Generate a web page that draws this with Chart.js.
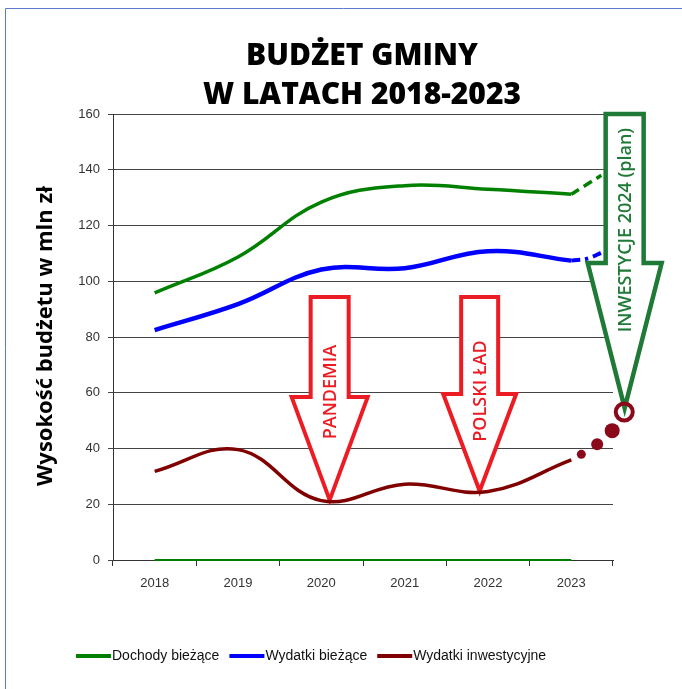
<!DOCTYPE html>
<html>
<head>
<meta charset="utf-8">
<script src="https://cdn.jsdelivr.net/npm/chart.js@4.4.1/dist/chart.umd.min.js"></script>
<style>
  html, body { margin: 0; padding: 0; background: #fff; }
  #wrap { width: 682px; height: 689px; }
</style>
</head>
<body>
<div id="wrap"><canvas id="chart" width="682" height="689"></canvas></div>
<script>
const years = [2018, 2019, 2020, 2021, 2022, 2023];
const dochody = [95.8, 108.7, 128.4, 134.3, 133.0, 131.2];
const wydatkiBiezace = [82.5, 91.8, 104.2, 104.7, 110.8, 107.4];
const wydatkiInwest = [31.8, 39.6, 21.3, 27.2, 24.6, 35.9];
const zeroLine = [0, 0, 0, 0, 0, 0];

// dorysowana prognoza za 2023
const dochodyPlanX = [2023, 2023.18, 2023.36];
const dochodyPlan = [131.2, 134.6, 138.0];
const wydatkiPlanX = [2023, 2023.2, 2023.38];
const wydatkiPlan = [107.4, 108.2, 110.5];
const inwestPlanX = [2023.12, 2023.31, 2023.49, 2023.635];
const inwestPlan = [37.9, 41.5, 46.4, 53.1];

const titleLines = ["BUDŻET GMINY", "W LATACH 2018-2023"];
const yTitle = "Wysokość budżetu w mln zł";
const arrowLabels = ["PANDEMIA", "POLSKI ŁAD", "INWESTYCJE 2024 (plan)"];
const arrowYears = [2020.1, 2021.9, 2023.64];
const arrowTips = [21.5, 24.75, 54.5];

const RED = "#ec1c24";
const DARKGREEN = "#1e7a36";
const DOT = "#8a0a1c";
const arrowStyle = [
  { len: 203, head: 103, shaft: 19, wing: 38, textUp: 108, color: RED, width: 4, font: '600 18px "Open Sans"' },
  { len: 194, head: 97, shaft: 18.5, wing: 36.5, textUp: 100, color: RED, width: 4, font: '600 18px "Open Sans"' },
  { len: 294, head: 145, shaft: 19, wing: 37, textUp: 178, color: DARKGREEN, width: 4.5, font: '600 18px "Open Sans"' },
];

const tickFont = { family: '"Liberation Sans", Arial, sans-serif', size: 13 };

function pts(xs, ys) {
  return xs.map((x, i) => ({ x: x, y: ys[i] }));
}

function drawArrow(ctx, tx, ty, s, label) {
  ctx.save();
  ctx.beginPath();
  ctx.moveTo(tx - s.shaft, ty - s.len);
  ctx.lineTo(tx + s.shaft, ty - s.len);
  ctx.lineTo(tx + s.shaft, ty - s.head);
  ctx.lineTo(tx + s.wing, ty - s.head);
  ctx.lineTo(tx, ty);
  ctx.lineTo(tx - s.wing, ty - s.head);
  ctx.lineTo(tx - s.shaft, ty - s.head);
  ctx.closePath();
  ctx.fillStyle = "#fff";
  ctx.fill();
  ctx.lineJoin = "miter";
  ctx.lineWidth = s.width;
  ctx.strokeStyle = s.color;
  ctx.stroke();

  // napis pionowo w srodku strzalki
  ctx.translate(tx, ty - s.textUp);
  ctx.rotate(-Math.PI / 2);
  ctx.font = s.font;
  ctx.fillStyle = s.color;
  ctx.textAlign = "center";
  ctx.textBaseline = "alphabetic";
  ctx.fillText(label, 0, 6.4);
  ctx.restore();
}

const decor = {
  id: "decor",
  beforeDatasetsDraw(chart) {
    const ctx = chart.ctx;
    const xs = chart.scales.x2;
    const ys = chart.scales.y;
    arrowLabels.forEach((label, i) => {
      drawArrow(ctx, xs.getPixelForValue(arrowYears[i]), ys.getPixelForValue(arrowTips[i]), arrowStyle[i], label);
    });
  },
  afterDraw(chart) {
    const ctx = chart.ctx;
    ctx.save();

    // ramka
    ctx.strokeStyle = "#5b7bc9";
    ctx.lineWidth = 1;
    ctx.beginPath();
    ctx.moveTo(5.5, 689);
    ctx.lineTo(5.5, 8.5);
    ctx.lineTo(682, 8.5);
    ctx.stroke();

    // tytul
    ctx.fillStyle = "#000";
    ctx.textAlign = "center";
    ctx.textBaseline = "alphabetic";
    ctx.font = '800 30px "Open Sans"';
    ctx.fillText(titleLines[0], 362, 65);
    ctx.fillText(titleLines[1], 362, 104);

    // tytul osi Y
    ctx.save();
    ctx.translate(52, 336);
    ctx.rotate(-Math.PI / 2);
    ctx.font = 'bold 22px "Open Sans"';
    ctx.fillText(yTitle, 0, 0);
    ctx.restore();

    // legenda
    ctx.font = '14px "Liberation Sans", Arial, sans-serif';
    ctx.textAlign = "left";
    ctx.textBaseline = "middle";
    let x = 76;
    const y = 656;
    chart.data.datasets.slice(0, 3).forEach(ds => {
      ctx.strokeStyle = ds.borderColor;
      ctx.lineWidth = 4;
      ctx.beginPath();
      ctx.moveTo(x, y);
      ctx.lineTo(x + 35, y);
      ctx.stroke();
      ctx.fillStyle = "#111";
      ctx.fillText(ds.label, x + 36, y);
      x += 36 + ctx.measureText(ds.label).width + 10;
    });
    ctx.restore();
  }
};

const ctx = document.getElementById("chart").getContext("2d");
new Chart(ctx, {
  type: "line",
  data: {
    datasets: [
      { label: "Dochody bieżące", data: pts(years, dochody), borderColor: "#008000", borderWidth: 3.5, tension: 0.4, pointRadius: 0 },
      { label: "Wydatki bieżące", data: pts(years, wydatkiBiezace), borderColor: "#0000ff", borderWidth: 4.5, tension: 0.4, pointRadius: 0 },
      { label: "Wydatki inwestycyjne", data: pts(years, wydatkiInwest), borderColor: "#800000", borderWidth: 3.5, tension: 0.4, pointRadius: 0 },
      { label: "zero", data: pts(years, zeroLine), borderColor: "#008000", borderWidth: 2, pointRadius: 0, clip: false },
      { label: "dochody plan", data: pts(dochodyPlanX, dochodyPlan), borderColor: "#008000", borderWidth: 3.5, borderDash: [9, 6], tension: 0.4, pointRadius: 0, clip: false },
      { label: "wydatki plan", data: pts(wydatkiPlanX, wydatkiPlan), borderColor: "#0000ff", borderWidth: 4, borderDash: [9, 5, 3, 5], tension: 0.4, pointRadius: 0, clip: false },
      {
        type: "bubble",
        label: "inwestycje plan", data: pts(inwestPlanX, inwestPlan), clip: false,
        radius: [4.5, 6, 7.5, 8.5],
        hoverRadius: 0,
        backgroundColor: [DOT, DOT, DOT, "rgba(255,255,255,0)"],
        borderColor: DOT,
        borderWidth: [0, 0, 0, 4],
      },
    ].map(d => Object.assign({ xAxisID: "x2", fill: false }, d))
  },
  options: {
    responsive: false,
    animation: false,
    events: [],
    layout: { padding: { top: 114, right: 69, bottom: 89, left: 0 } },
    plugins: {
      legend: { display: false },
      title: { display: false },
      tooltip: { enabled: false },
    },
    scales: {
      x: {
        type: "category",
        labels: years.map(String),
        offset: true,
        grid: { offset: true, drawOnChartArea: false, tickLength: 6, color: "#333" },
        border: { color: "#333" },
        ticks: { font: tickFont, color: "#333", padding: 10 },
        afterFit: s => { s.height = 40; },
      },
      x2: { type: "linear", min: 2017.5, max: 2023.5, display: false },
      y: {
        min: 0,
        max: 160,
        ticks: { stepSize: 20, font: tickFont, color: "#333", padding: 8 },
        grid: { color: "#444", tickLength: 5 },
        border: { color: "#333" },
        afterFit: s => { s.width = 113; },
      },
    },
  },
  plugins: [decor],
});
</script>
</body>
</html>
